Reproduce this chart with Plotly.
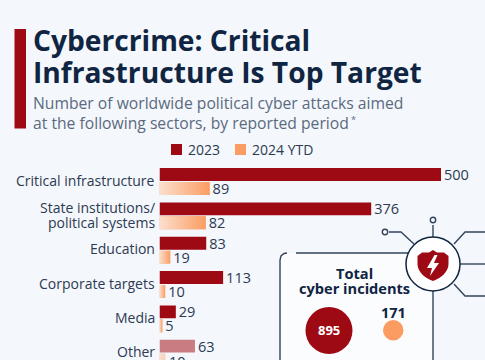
import plotly.graph_objects as go

categories = ["Critical infrastructure", "State institutions/<br>political systems", "Education",
              "Corporate targets", "Media", "Other"]
values_2023 = [500, 376, 83, 113, 29, 63]
values_2024 = [89, 82, 19, 10, 5, 10]
colors_2023 = ["#9e0a14"] * 5 + ["#c97d82"]
total_2023 = 895
total_2024 = 171

W, H = 485, 360
BG = "#f4f7fb"
NAVY = "#0f2542"
TXT = "#2c3a52"
RED = "#9e0a14"
ORANGE = "#fb9d63"
FONT = "Open Sans"
def X(p): return p / W
def Y(p): return 1 - p / H

idx = list(range(len(categories)))
BAR_W = 0.375
OFF_A, OFF_B = -0.39, 0.015

fig = go.Figure()
fig.add_bar(y=idx, x=values_2023, orientation="h", name="2023", width=BAR_W, offset=OFF_A,
            marker=dict(color=colors_2023, line_width=0), text=values_2023, textposition="outside",
            constraintext="none", textangle=0,
            textfont=dict(size=14.5, color=TXT, family=FONT), cliponaxis=False)
fig.add_bar(y=idx, x=values_2024, orientation="h", name="2024 YTD", width=BAR_W, offset=OFF_B,
            marker=dict(color=ORANGE, line_width=0),
            text=[str(v) for v in values_2024[:-1]] + [""], textposition="outside",
            constraintext="none", textangle=0,
            textfont=dict(size=14.5, color=TXT, family=FONT), cliponaxis=False)
# gradient overlay on the 2024 bars
for i, v in zip(idx, values_2024):
    y0, y1 = i + OFF_B, i + OFF_B + BAR_W
    end = "#f6d3bd" if i == idx[-1] else ORANGE
    fig.add_scatter(x=[0, v, v, 0, 0], y=[y0, y0, y1, y1, y0], mode="lines", line_width=0,
                    fill="toself", showlegend=False, hoverinfo="skip",
                    fillgradient=dict(type="horizontal",
                                      colorscale=[[0, "#fbdfcd"], [1, end]]))

shapes = []
def sh(**k):
    shapes.append(dict(xref="paper", yref="paper", layer="above", **k))
def path(points, **k):
    d = "M" + " L".join(f"{X(a):.5f},{Y(b):.5f}" for a, b in points)
    sh(type="path", path=d, **k)

# title accent
sh(type="rect", x0=X(14.5), x1=X(26), y0=Y(29), y1=Y(128.5), fillcolor=RED, line_width=0)
# legend keys
sh(type="rect", x0=X(171), x1=X(182), y0=Y(144), y1=Y(155), fillcolor=RED, line_width=0)
sh(type="rect", x0=X(235), x1=X(246), y0=Y(144), y1=Y(155), fillcolor=ORANGE, line_width=0)

LINE = dict(color="#33445c", width=1.4)
# panel
path([(280, 360), (280, 260), (281, 256), (284, 253.5), (287, 253), (433, 253), (433, 360)],
     fillcolor="#fbfcfe", line_width=0)
path([(296, 253), (408, 253)], line=LINE)
path([(433, 290), (433, 360)], line=LINE)
path([(280, 360), (280, 260), (281, 256), (284, 253.5), (287, 253)], line=LINE)
# connector lines
path([(389, 232), (401, 232), (414, 244)], line=LINE)
path([(433, 225), (433, 240)], line=LINE)
path([(454, 244), (465, 232), (485, 232)], line=LINE)
path([(460, 264), (485, 264)], line=LINE)
path([(454, 284), (465, 296), (485, 296)], line=LINE)
# end dots
for cx, cy in [(385, 232), (433, 220)]:
    sh(type="circle", x0=X(cx - 2.7), x1=X(cx + 2.7), y0=Y(cy - 2.7), y1=Y(cy + 2.7),
       fillcolor=BG, line=LINE)
# hub circle
sh(type="circle", x0=X(406), x1=X(460), y0=Y(237), y1=Y(291), fillcolor="#ffffff", line=dict(color=NAVY, width=1.5))
# shield (curved)
def P(a, b): return f"{X(a):.5f},{Y(b):.5f}"
sh(type="path", fillcolor=RED, line_width=0,
   path=f"M{P(433,250)} L{P(437,252.5)} L{P(444,252.5)} L{P(448.5,256)} L{P(448.5,264)} "
        f"C{P(448.5,272)} {P(441,278)} {P(433,281)} C{P(425,278)} {P(417.5,272)} {P(417.5,264)} "
        f"L{P(417.5,256)} L{P(422,252.5)} L{P(429,252.5)} Z")
path([(434.5, 255), (427, 268), (432, 268), (430, 276), (439, 263), (434, 263), (437.5, 255), (434.5, 255)],
     fillcolor="#ffffff", line_width=0)
# total bubbles
sh(type="circle", x0=X(305.5), x1=X(352.5), y0=Y(307), y1=Y(354), fillcolor=RED, line_width=0)
sh(type="circle", x0=X(383), x1=X(403.5), y0=Y(320), y1=Y(340.5), fillcolor=ORANGE, line_width=0)

anns = []
def txt(x, y, s, size, color=NAVY, bold=False, anchor="left"):
    anns.append(dict(xref="paper", yref="paper", x=X(x), y=Y(y), text=f"<b>{s}</b>" if bold else s,
                     showarrow=False, xanchor=anchor, yanchor="middle", borderpad=0,
                     font=dict(size=size, color=color, family=FONT), align="left"))
txt(32, 39.5, "Cybercrime: Critical", 28.2, bold=True)
txt(32, 72, "Infrastructure Is Top Target", 28.2, bold=True)
txt(32, 103, "Number of worldwide political cyber attacks aimed", 15.7, "#5a6a80")
txt(32, 123, "at the following sectors, by reported period", 15.7, "#5a6a80")
txt(350, 120, "*", 9, "#5a6a80")
txt(187, 149.5, "2023", 14, TXT)
txt(251, 149.5, "2024 YTD", 14, TXT)
txt(354.5, 273, "Total", 14.6, bold=True, anchor="center")
txt(354.5, 288, "cyber incidents", 14.6, bold=True, anchor="center")
txt(329, 330, str(total_2023), 13, "#ffffff", True, "center")
txt(393, 312, str(total_2024), 14.5, NAVY, True, "center")

# category labels, one annotation per line so the line spacing can be set
for i, c in zip(idx, categories):
    lines = c.split("<br>")
    for n, line in enumerate(lines):
        anns.append(dict(xref="paper", yref="y", x=X(155.5), y=i, text=line, showarrow=False,
                         xanchor="right", yanchor="middle", borderpad=0,
                         yshift=1.2 - (n - (len(lines) - 1) / 2) * 15,
                         font=dict(size=14, color=TXT, family=FONT)))
# label of the last 2024 bar, which sits on the lower edge
anns.append(dict(xref="x", yref="y", x=values_2024[-1], y=idx[-1] - 0.05,
                 text=str(values_2024[-1]), showarrow=False, xanchor="left", yanchor="top",
                 xshift=3, borderpad=0, font=dict(size=14.5, color=TXT, family=FONT)))

fig.update_layout(
    width=W, height=H, margin=dict(l=0, r=0, t=0, b=0), autosize=False, showlegend=False,
    paper_bgcolor=BG, plot_bgcolor="rgba(0,0,0,0)", barmode="overlay", font=dict(family=FONT),
    shapes=shapes, annotations=anns,
    xaxis=dict(domain=[X(159.5), 1], range=[0, (W - 159.5) / 0.563], visible=False, fixedrange=True),
    yaxis=dict(domain=[0, Y(164)], range=[5.2, -0.51], tickmode="array", tickvals=idx,
               showticklabels=False, showgrid=False, zeroline=False, showline=False, ticks="",
               fixedrange=True),
)
fig.write_html("out.html", config=dict(displayModeBar=False),
               post_script="document.body.style.margin='0';document.body.style.background='#f4f7fb';")
